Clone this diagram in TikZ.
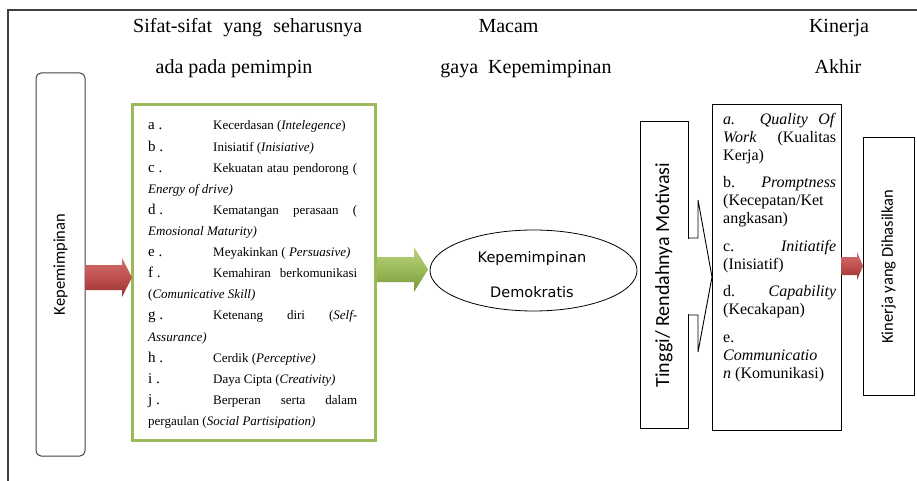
\documentclass[tikz,border=0pt]{standalone}
\usepackage{fontspec}
\setmainfont{Liberation Serif}
\newfontfamily\calib{Carlito}
\newfontfamily\dvsans{DejaVu Sans}
\usetikzlibrary{shapes.geometric,calc}
\definecolor{framegray}{HTML}{404040}
\definecolor{grn}{HTML}{9BBB59}
\newcommand\myfs[1]{\fontsize{#1}{#1}\selectfont}
\newcommand\myarrow[6]{%
  \path[#1] ($(#2)+(0,-#4)$) -- ($(#3)+(-#6,-#4)$) -- ($(#3)+(-#6,-#5)$) -- (#3)
    -- ($(#3)+(-#6,#5)$) -- ($(#3)+(-#6,#4)$) -- ($(#2)+(0,#4)$) -- cycle;}
\begin{document}
\begin{tikzpicture}[x=1pt,y=-1pt,
  box/.style={draw=black, line width=1pt, inner sep=0pt, outer sep=0pt},
  hdr/.style={anchor=base, inner sep=0pt, font=\myfs{20}},
  ql/.style={anchor=base west, inner sep=0pt, font=\myfs{15}},
  qt/.style={anchor=base west, inner sep=0pt, font=\myfs{13}},
  rt/.style={anchor=base west, inner sep=0pt, font=\myfs{16}},
  redarr/.style={top color={rgb,255:red,208;green,112;blue,110}, bottom color={rgb,255:red,150;green,50;blue,48}, middle color={rgb,255:red,192;green,80;blue,77}},
  grnarr/.style={top color={rgb,255:red,185;green,212;blue,125}, bottom color={rgb,255:red,118;green,150;blue,58}, middle color={rgb,255:red,155;green,187;blue,89}}
]
\useasboundingbox (0,0) rectangle (917,481);
\draw[framegray, line width=1.5pt] (917,10) -- (8,10) -- (8,481);

% headers
\node[anchor=base west, inner sep=0pt, font=\myfs{20}] (h1) at (133,33) {\makebox[229pt][s]{Sifat-sifat yang seharusnya}};
\node[hdr] (h2) at (234,74) {ada pada pemimpin};
\node[hdr] (h3) at (508.5,33) {Macam};
\node[hdr] (h4) at (526,74) {gaya\ \ Kepemimpinan};
\node[hdr] (h5) at (839,33) {Kinerja};
\node[hdr] (h6) at (838,74) {Akhir};

% boxes
\node[box, draw=framegray, rounded corners=5pt, minimum width=49pt, minimum height=383pt] (lead) at (60.5,264.5) {\rotatebox{90}{\calib\myfs{16.5}Kepemimpinan}};
\node[draw=grn, line width=3pt, inner sep=0pt, outer sep=0pt, minimum width=243pt, minimum height=335pt] (quals) at (253.5,272.5) {};
\node[draw, ellipse, line width=0.8pt, inner sep=0pt, outer sep=0pt, minimum width=207pt, minimum height=81pt] (style) at (533.5,270.5) {};
\node[anchor=base, inner sep=0pt, font=\dvsans\myfs{14.5}] (s1) at (532,262) {Kepemimpinan};
\node[anchor=base, inner sep=0pt, font=\dvsans\myfs{14.5}] (s2) at (532,297) {Demokratis};
\node[box, minimum width=48pt, minimum height=306pt] (motiv) at (664,275) {\rotatebox{90}{\calib\myfs{20}Tinggi/ Rendahnya Motivasi}};
\node[box, minimum width=129pt, minimum height=325pt] (list) at (776.5,267.5) {};
\node[box, minimum width=51pt, minimum height=257pt] (result) at (888.5,266.5) {\rotatebox{90}{\calib\myfs{16.5}Kinerja yang Dihasilkan}};

% block arrows
\coordinate (r1s) at (lead.east |- 0,277.5);
\coordinate (r1t) at (quals.west |- 0,277.5);
\myarrow{redarr}{r1s}{r1t}{12.5}{19.5}{10}
\coordinate (g1s) at (377,269.5);
\coordinate (g1t) at ($(style.west |- 0,269.5)+(-2,0)$);
\myarrow{grnarr}{g1s}{g1t}{12.5}{22.5}{14}
\coordinate (r2s) at (list.east |- 0,266);
\coordinate (r2t) at (result.west |- 0,266);
\myarrow{redarr}{r2s}{r2t}{9}{14}{6}

% notched arrow from motiv to list
\coordinate (m1) at (motiv.east |- 0,238);
\coordinate (m2) at (motiv.east |- 0,315);
\coordinate (mt) at (list.west |- 0,277);
\fill[white] ($(m1)+(-1,0.6)$) rectangle ($(m2)+(1.5,-0.6)$);
\draw[line width=0.9pt, line join=miter] (m1) -- ++(10,0) -- ++(0,-38) -- (mt) -- ($(m2)+(10,37)$) -- ++(0,-37) -- (m2);

% green list
\node[ql] (la) at (148,130) {a .};
\node[qt] (ta) at (213,130) {Kecerdasan (\textit{Intelegence})};
\node[ql] (lb) at (148,151.1) {b .};
\node[qt] (tb) at (213,151.1) {Inisiatif (\textit{Inisiative)}};
\node[ql] (lc) at (148,172.2) {c .};
\node[qt] (tc) at (213,172.2) {\makebox[144pt][s]{Kekuatan atau pendorong (}};
\node[qt] (tc2) at (148,193.3) {\textit{Energy of drive)}};
\node[ql] (ld) at (148,214.4) {d .};
\node[qt] (td) at (213,214.4) {\makebox[144pt][s]{Kematangan perasaan (}};
\node[qt] (td2) at (148,235.5) {\textit{Emosional Maturity)}};
\node[ql] (le) at (148,256.6) {e .};
\node[qt] (te) at (213,256.6) {Meyakinkan ( \textit{Persuasive)}};
\node[ql] (lf) at (148,277.7) {f .};
\node[qt] (tf) at (213,277.7) {\makebox[144pt][s]{Kemahiran berkomunikasi}};
\node[qt] (tf2) at (148,298.8) {(\textit{Comunicative Skill)}};
\node[ql] (lg) at (148,319.9) {g .};
\node[qt] (tg) at (213,319.9) {\makebox[144pt][s]{Ketenang diri (\textit{Self-}}};
\node[qt] (tg2) at (148,341) {\textit{Assurance)}};
\node[ql] (lh) at (148,362.1) {h .};
\node[qt] (th) at (213,362.1) {Cerdik (\textit{Perceptive)}};
\node[ql] (li) at (148,383.2) {i .};
\node[qt] (ti) at (213,383.2) {Daya Cipta (\textit{Creativity)}};
\node[ql] (lj) at (148,404.3) {j .};
\node[qt] (tj) at (213,404.3) {\makebox[144pt][s]{Berperan serta dalam}};
\node[qt] (tj2) at (148,425.4) {pergaulan (\textit{Social Partisipation)}};

% right list
\node[rt] (ra1) at (723,124.5) {\makebox[113pt][s]{\textit{a. Quality Of}}};
\node[rt] (ra2) at (723,142.3) {\makebox[113pt][s]{\textit{Work} (Kualitas}};
\node[rt] (ra3) at (723,160.1) {Kerja)};
\node[rt] (rb1) at (723,187.9) {\makebox[113pt][s]{b. \textit{Promptness}}};
\node[rt] (rb2) at (723,205.7) {(Kecepatan/Ket};
\node[rt] (rb3) at (723,223.5) {angkasan)};
\node[rt] (rc1) at (723,251.3) {\makebox[113pt][s]{c. \textit{Initiatife}}};
\node[rt] (rc2) at (723,269.1) {(Inisiatif)};
\node[rt] (rd1) at (723,296.9) {\makebox[113pt][s]{d. \textit{Capability}}};
\node[rt] (rd2) at (723,314.7) {(Kecakapan)};
\node[rt] (re1) at (723,342.5) {e.};
\node[rt] (re2) at (723,360.3) {\textit{Communicatio}};
\node[rt] (re3) at (723,378.1) {\textit{n} (Komunikasi)};
\end{tikzpicture}
\end{document}
